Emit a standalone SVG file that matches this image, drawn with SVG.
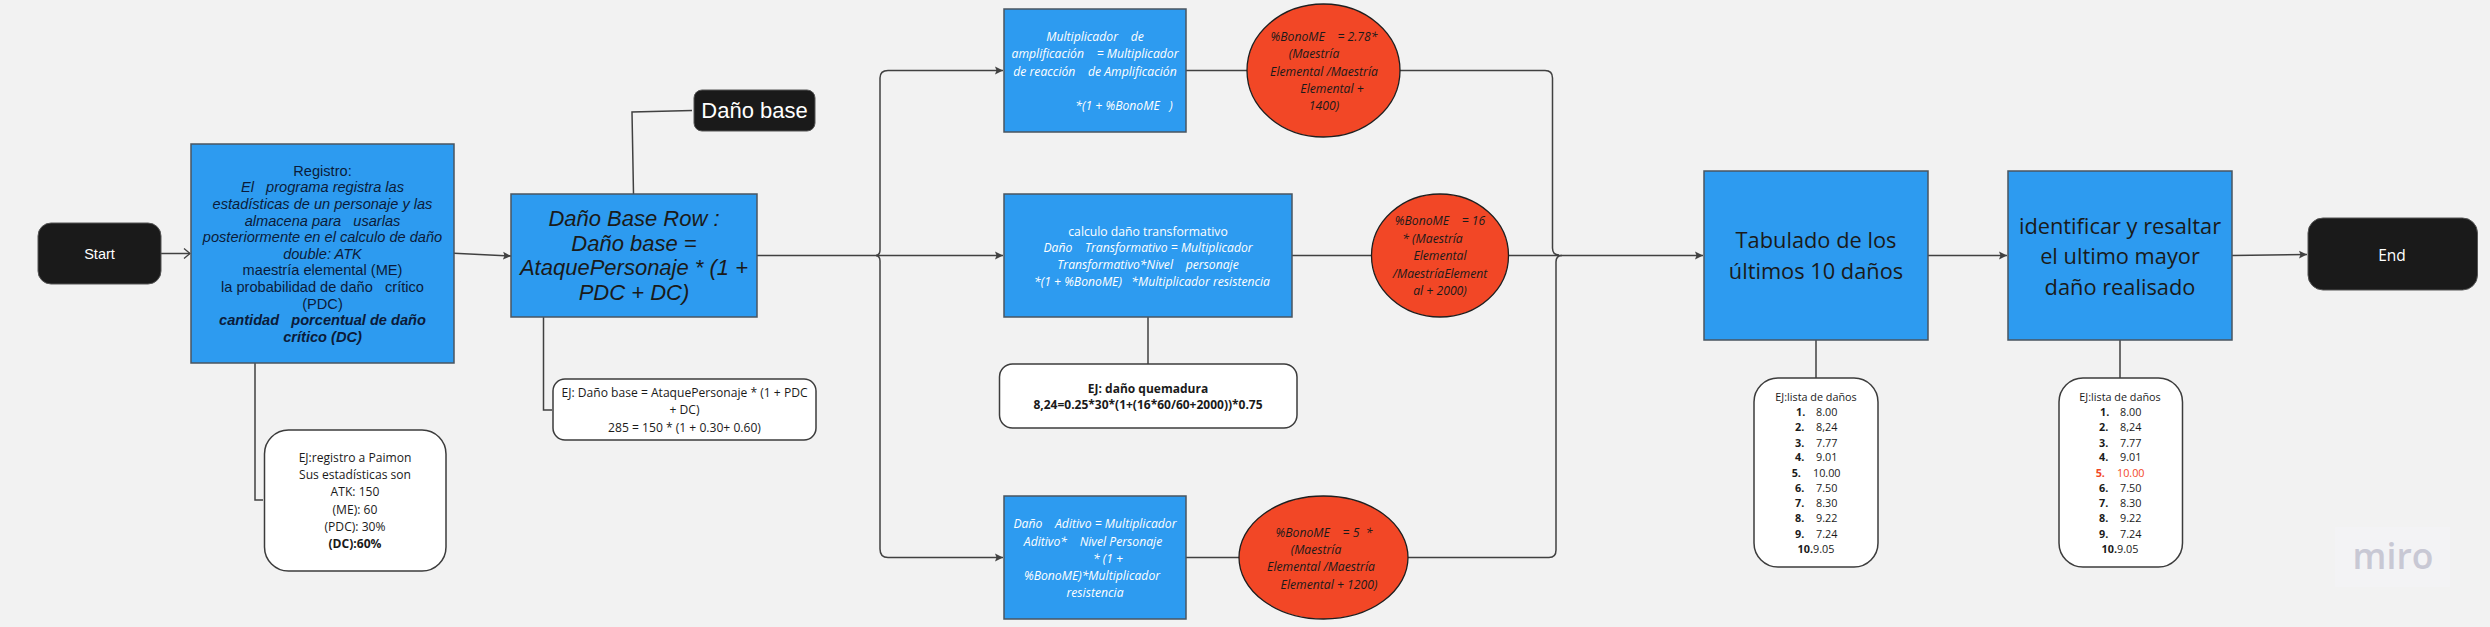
<svg xmlns="http://www.w3.org/2000/svg" width="2490" height="627" viewBox="0 0 2490 627">
<style>
text{white-space:pre;text-anchor:middle}
.lib{font-family:"Liberation Sans",Arial,sans-serif}
.os{font-family:"Open Sans","Noto Sans",sans-serif}
.it{font-style:italic}
.b{font-weight:700}
.blue{fill:#2d9bf0;stroke:#4a5560;stroke-width:1.5}
.dark{fill:#1a1a1a;stroke:#555;stroke-width:1}
.ell{fill:#f24726;stroke:#1f1f1f;stroke-width:1.3}
.note{fill:#fff;stroke:#3c3c3c;stroke-width:1.5}
.w{fill:#fff}
.k{fill:#1a1a1a}
.n{fill:#0b1b3a}
.f125{font-size:12.1px}
.f13{font-size:12.2px}
.fq{font-size:12px}
.conn path{fill:none;stroke:#414141;stroke-width:1.5}
.l{text-anchor:start}
.list{font-size:10.8px;fill:#1a1a1a}
</style>
<defs>
<marker id="a" markerUnits="userSpaceOnUse" markerWidth="10" markerHeight="10" refX="8" refY="5" orient="auto"><path d="M0 1L8 5L0 9L1.5 5Z" fill="#414141"/></marker>
<marker id="o" markerUnits="userSpaceOnUse" markerWidth="10" markerHeight="12" refX="7" refY="6" orient="auto"><path d="M1 1L7 6L1 11" fill="none" stroke="#414141" stroke-width="1.3"/></marker>
</defs>
<rect width="2490" height="627" fill="#f2f2f2"/>
<g class="conn" id="connectors">
<path d="M161 253.5H190" marker-end="url(#o)"/>
<path d="M454 253.3L511 256" marker-end="url(#a)"/>
<path d="M255 363V500H263"/>
<path d="M633.5 194L632 112L692 110.5"/>
<path d="M543.5 317V410H552"/>
<path d="M757 255.5H1003" marker-end="url(#a)"/>
<path d="M876 255.5Q880 255 880 250V78Q880 70.5 888 70.5H1003" marker-end="url(#a)"/>
<path d="M876 255.5Q880 256 880 261V549Q880 557.5 888 557.5H1003" marker-end="url(#a)"/>
<path d="M1186 70.5H1247"/>
<path d="M1292 255.5H1371"/>
<path d="M1186 557.5H1239"/>
<path d="M1148 317V364"/>
<path d="M1400 70.5H1545Q1552.5 70.5 1552.5 78V248Q1552.5 255 1559 255"/>
<path d="M1408 557.5H1549Q1556 557.5 1556 550V262Q1556 255.5 1562 255.5"/>
<path d="M1508.5 255.5H1703" marker-end="url(#a)"/>
<path d="M1928 255.5H2007" marker-end="url(#a)"/>
<path d="M2232 255.5L2307 254.5" marker-end="url(#a)"/>
<path d="M1816 340V378"/>
<path d="M2120 340V378"/>
</g>
<g id="start"><rect class="dark" x="38" y="223" width="123" height="61" rx="13"/><text class="lib w" x="99.5" y="259" font-size="14.5">Start</text></g>
<g id="registro" class="lib">
<rect class="blue" x="191" y="144" width="263" height="219"/>
<g font-size="14.6">
<text class="n" x="322.5" y="175.7">Registro:</text>
<text class="n it" x="322.5" y="192.3">El   programa registra las</text>
<text class="n it" x="322.5" y="209">estadísticas de un personaje y las</text>
<text class="n it" x="322.5" y="225.6">almacena para   usarlas</text>
<text class="n it" x="322.5" y="242.2">posteriormente en el calculo de daño</text>
<text class="n it" x="322.5" y="258.8">double: ATK</text>
<text class="n" x="322.5" y="275.4">maestría elemental (ME)</text>
<text class="n" x="322.5" y="292">la probabilidad de daño   crítico</text>
<text class="n" x="322.5" y="308.6">(PDC)</text>
<text class="n it b" x="322.5" y="325.2">cantidad   porcentual de daño</text>
<text class="n it b" x="322.5" y="341.8">crítico (DC)</text>
</g></g>
<g id="ej-registro" class="os f125">
<rect class="note" x="264.5" y="430" width="181.5" height="141" rx="24"/>
<text class="k" x="355" y="462">EJ:registro a Paimon</text>
<text class="k" x="355" y="479">Sus estadísticas son</text>
<text class="k" x="355" y="496">ATK: 150</text>
<text class="k" x="355" y="513.5">(ME): 60</text>
<text class="k" x="355" y="530.5">(PDC): 30%</text>
<text class="k b" x="355" y="547.5">(DC):60%</text>
</g>
<g id="dano-base-row" class="lib it">
<rect class="blue" x="511" y="194" width="246" height="123"/>
<g font-size="22">
<text class="k" x="634" y="226">Daño Base Row :</text>
<text class="k" x="634" y="250.5">Daño base =</text>
<text class="k" x="634" y="275">AtaquePersonaje * (1 +</text>
<text class="k" x="634" y="299.5">PDC + DC)</text>
</g></g>
<g id="dano-base"><rect class="dark" x="694" y="90" width="121" height="41" rx="8"/><text class="lib w" x="754.5" y="118" font-size="22">Daño base</text></g>
<g id="ej-base" class="os f125">
<rect class="note" x="553" y="379" width="263" height="61" rx="12"/>
<text class="k" x="684.5" y="397">EJ: Daño base = AtaquePersonaje * (1 + PDC</text>
<text class="k" x="684.5" y="414">+ DC)</text>
<text class="k" x="684.5" y="432">285 = 150 * (1 + 0.30+ 0.60)</text>
</g>
<g id="amplificacion" class="os it f13">
<rect class="blue" x="1004" y="9" width="182" height="123"/>
<text class="w" x="1095" y="40.7">Multiplicador    de</text>
<text class="w" x="1095" y="58">amplificación    = Multiplicador</text>
<text class="w" x="1095" y="76">de reacción    de Amplificación</text>
<text class="w" x="1124" y="110">*(1 + %BonoME   )</text>
</g>
<g id="bono-amplificacion" class="os it f13">
<ellipse class="ell" cx="1323.5" cy="70.5" rx="76.5" ry="66.5"/>
<text class="k" x="1324" y="40.7">%BonoME    = 2.78*</text>
<text class="k" x="1314" y="58">(Maestría</text>
<text class="k" x="1324" y="75.5">Elemental /Maestría</text>
<text class="k" x="1332" y="93">Elemental +</text>
<text class="k" x="1324" y="110">1400)</text>
</g>
<g id="transformativo" class="os f13">
<rect class="blue" x="1004" y="194" width="288" height="123"/>
<text class="w" x="1148" y="235.5">calculo daño transformativo</text>
<text class="w it" x="1148" y="252">Daño    Transformativo = Multiplicador</text>
<text class="w it" x="1148" y="269">Transformativo*Nivel    personaje</text>
<text class="w it" x="1152" y="286">*(1 + %BonoME)   *Multiplicador resistencia</text>
</g>
<g id="bono-transformativo" class="os it f13">
<ellipse class="ell" cx="1440" cy="255.5" rx="68.5" ry="61.5"/>
<text class="k" x="1440" y="225">%BonoME    = 16</text>
<text class="k" x="1432.5" y="242.5">* (Maestría</text>
<text class="k" x="1440" y="260">Elemental</text>
<text class="k" x="1440" y="277.5">/MaestríaElement</text>
<text class="k" x="1440" y="294.7">al + 2000)</text>
</g>
<g id="ej-quemadura" class="os b fq">
<rect class="note" x="999.5" y="364" width="297.5" height="64" rx="13"/>
<text class="k" x="1148" y="392.5">EJ: daño quemadura</text>
<text class="k" x="1148" y="409.3">8,24=0.25*30*(1+(16*60/60+2000))*0.75</text>
</g>
<g id="aditivo" class="os it f13">
<rect class="blue" x="1004" y="496" width="182" height="123"/>
<text class="w" x="1095" y="528">Daño    Aditivo = Multiplicador</text>
<text class="w" x="1093" y="545.5">Aditivo*    Nivel Personaje</text>
<text class="w" x="1108" y="562.7">* (1 +</text>
<text class="w" x="1092" y="580">%BonoME)*Multiplicador</text>
<text class="w" x="1095" y="597">resistencia</text>
</g>
<g id="bono-aditivo" class="os it f13">
<ellipse class="ell" cx="1323.5" cy="557.5" rx="84.5" ry="61.5"/>
<text class="k" x="1324" y="536.7">%BonoME    = 5  *</text>
<text class="k" x="1316" y="554">(Maestría</text>
<text class="k" x="1321" y="571">Elemental /Maestría</text>
<text class="k" x="1329" y="588.7">Elemental + 1200)</text>
</g>
<g id="tabulado" class="os">
<rect class="blue" x="1704" y="171" width="224" height="169"/>
<g font-size="21.8">
<text class="k" x="1816" y="248">Tabulado de los</text>
<text class="k" x="1816" y="279">últimos 10 daños</text>
</g></g>
<g id="identificar" class="os">
<rect class="blue" x="2008" y="171" width="224" height="169"/>
<g font-size="21.8">
<text class="k" x="2120" y="234">identificar y resaltar</text>
<text class="k" x="2120" y="264">el ultimo mayor</text>
<text class="k" x="2120" y="295">daño realisado</text>
</g></g>
<g id="end"><rect class="dark" x="2308" y="218" width="169.5" height="72" rx="15"/><text class="os w" x="2392" y="260.5" font-size="15.5">End</text></g>
<g id="ej-lista-1" class="os list">
<rect class="note" x="1754" y="378" width="124" height="189" rx="24"/>
<text class="k" x="1816" y="400.7">EJ:lista de daños</text>
<text class="l" x="1796" y="415.7"><tspan class="b">1.</tspan><tspan x="1816">8.00</tspan></text>
<text class="l" x="1795" y="431"><tspan class="b">2.</tspan><tspan x="1816">8,24</tspan></text>
<text class="l" x="1795" y="446.5"><tspan class="b">3.</tspan><tspan x="1816">7.77</tspan></text>
<text class="l" x="1795" y="461"><tspan class="b">4.</tspan><tspan x="1816">9.01</tspan></text>
<text class="l" x="1791.7" y="476.5"><tspan class="b">5.</tspan><tspan x="1813">10.00</tspan></text>
<text class="l" x="1795" y="492"><tspan class="b">6.</tspan><tspan x="1816">7.50</tspan></text>
<text class="l" x="1795" y="507"><tspan class="b">7.</tspan><tspan x="1816">8.30</tspan></text>
<text class="l" x="1795" y="522"><tspan class="b">8.</tspan><tspan x="1816">9.22</tspan></text>
<text class="l" x="1795" y="538"><tspan class="b">9.</tspan><tspan x="1816">7.24</tspan></text>
<text class="k" x="1816" y="553"><tspan class="b">10.</tspan>9.05</text>
</g>
<g id="ej-lista-2" class="os list">
<rect class="note" x="2059" y="378" width="123.5" height="189" rx="24"/>
<text class="k" x="2120" y="400.7">EJ:lista de daños</text>
<text class="l" x="2100" y="415.7"><tspan class="b">1.</tspan><tspan x="2120">8.00</tspan></text>
<text class="l" x="2099" y="431"><tspan class="b">2.</tspan><tspan x="2120">8,24</tspan></text>
<text class="l" x="2099" y="446.5"><tspan class="b">3.</tspan><tspan x="2120">7.77</tspan></text>
<text class="l" x="2099" y="461"><tspan class="b">4.</tspan><tspan x="2120">9.01</tspan></text>
<text class="l" x="2095.7" y="476.5" style="fill:#f24726"><tspan class="b">5.</tspan><tspan x="2117">10.00</tspan></text>
<text class="l" x="2099" y="492"><tspan class="b">6.</tspan><tspan x="2120">7.50</tspan></text>
<text class="l" x="2099" y="507"><tspan class="b">7.</tspan><tspan x="2120">8.30</tspan></text>
<text class="l" x="2099" y="522"><tspan class="b">8.</tspan><tspan x="2120">9.22</tspan></text>
<text class="l" x="2099" y="538"><tspan class="b">9.</tspan><tspan x="2120">7.24</tspan></text>
<text class="k" x="2120" y="553"><tspan class="b">10.</tspan>9.05</text>
</g>
<g id="watermark"><rect x="2335" y="527" width="115" height="60" fill="#f3f3f5"/><text class="os" x="2393" y="569" font-size="35.5" font-weight="600" fill="#c8c8d4">miro</text></g>
</svg>
